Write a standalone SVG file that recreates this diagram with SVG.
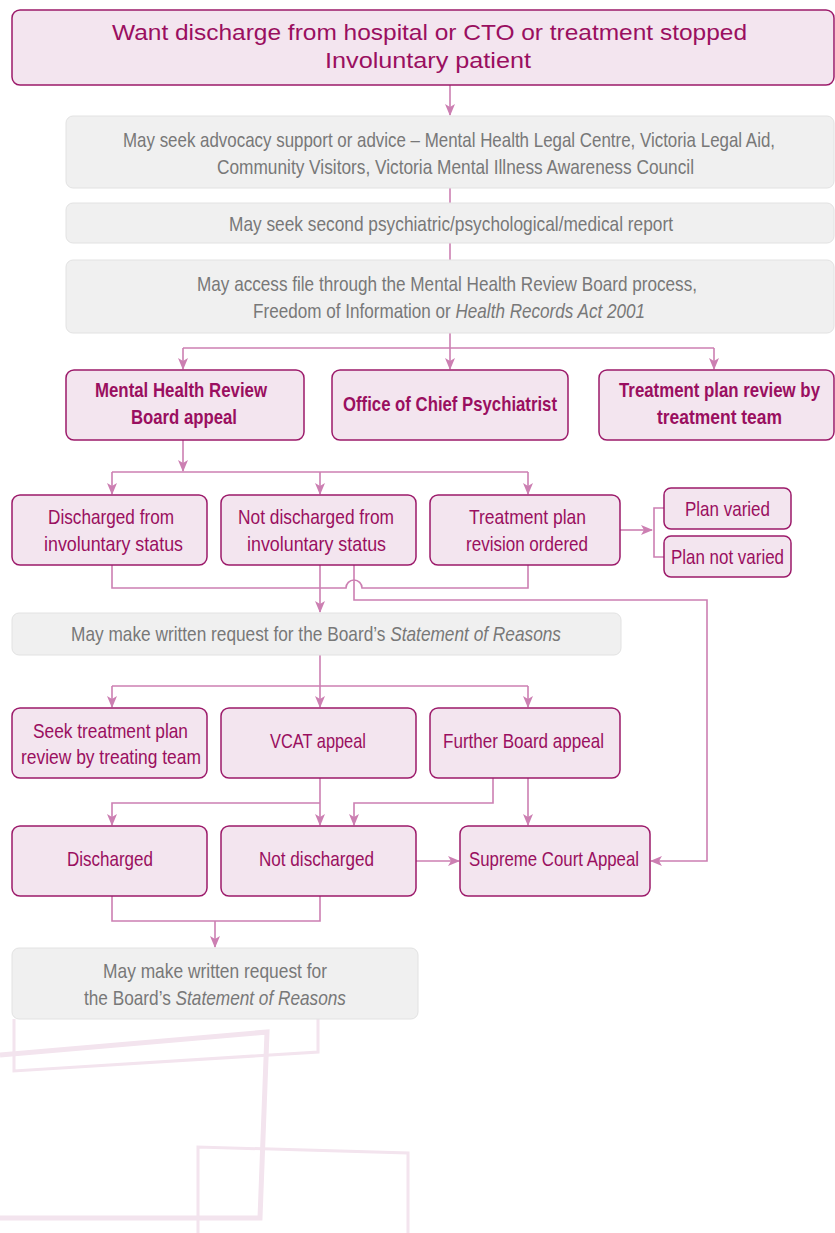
<svg xmlns="http://www.w3.org/2000/svg" width="835" height="1233" viewBox="0 0 835 1233">
<defs>
<marker id="ah" viewBox="0 0 12 10" refX="11" refY="5" markerWidth="12" markerHeight="10" markerUnits="userSpaceOnUse" orient="auto">
<path d="M0,0 L12,5 L0,10 L3,5 z" fill="#cc7fb2"/>
</marker>
<style>
.deco{fill:none;stroke:#f3e4ee;stroke-linejoin:miter}
.node{fill:#f3e5ef;stroke:#9c1a6a;stroke-width:1.5}
.gray{fill:#f0f0f0;stroke:#e2e2e2;stroke-width:1}
.c{fill:none;stroke:#cc7fb2;stroke-width:1.6}
.ca{fill:none;stroke:#cc7fb2;stroke-width:1.6;marker-end:url(#ah)}
text{text-anchor:start}
.t{font-family:"Liberation Sans",Arial,sans-serif;font-size:21px;fill:#9a0f60}
.b{font-weight:bold}
.g{font-family:"Liberation Sans",Arial,sans-serif;font-size:21px;fill:#787878}
.h{font-family:"Liberation Sans",Arial,sans-serif;font-size:22px;fill:#9a0f60}
</style>
</defs>
<g id="decoration">
<polyline class="deco" stroke-width="3" points="14,1019 14,1071 318,1052 318,1019"/>
<polyline class="deco" stroke-width="5" points="0,1055 267,1032 260,1218 0,1218"/>
<polyline class="deco" stroke-width="3" points="198,1233 198,1147 408,1153 408,1233"/>
</g>
<g id="connectors">
<line class="ca" x1="450" y1="85" x2="450" y2="115"/>
<line class="c" x1="450" y1="188" x2="450" y2="203"/>
<line class="c" x1="450" y1="243" x2="450" y2="260"/>
<line class="c" x1="450" y1="333" x2="450" y2="348"/>
<line class="c" x1="183" y1="348" x2="714" y2="348"/>
<line class="ca" x1="183" y1="348" x2="183" y2="369"/>
<line class="ca" x1="450" y1="348" x2="450" y2="369"/>
<line class="ca" x1="714" y1="348" x2="714" y2="369"/>
<line class="ca" x1="183" y1="440" x2="183" y2="471"/>
<line class="c" x1="112" y1="472" x2="528" y2="472"/>
<line class="ca" x1="112" y1="472" x2="112" y2="494"/>
<line class="ca" x1="320" y1="472" x2="320" y2="494"/>
<line class="ca" x1="528" y1="472" x2="528" y2="494"/>
<line class="ca" x1="620" y1="530" x2="652" y2="530"/>
<polyline class="c" points="664,508 654,508 654,557 664,557"/>
<path class="c" d="M112,565 V588 H346 A8,8 0 0 1 362,588 H528 V565"/>
<line class="ca" x1="320" y1="565" x2="320" y2="612"/>
<polyline class="ca" points="354,565 354,600 707,600 707,861 651,861"/>
<line class="c" x1="320" y1="655" x2="320" y2="686"/>
<line class="c" x1="112" y1="686" x2="528" y2="686"/>
<line class="ca" x1="112" y1="686" x2="112" y2="707"/>
<line class="ca" x1="320" y1="686" x2="320" y2="707"/>
<line class="ca" x1="528" y1="686" x2="528" y2="707"/>
<line class="ca" x1="320" y1="778" x2="320" y2="825"/>
<polyline class="ca" points="320,803 112,803 112,825"/>
<polyline class="ca" points="493,778 493,803 354,803 354,825"/>
<line class="ca" x1="528" y1="778" x2="528" y2="825"/>
<line class="ca" x1="416" y1="861" x2="459" y2="861"/>
<polyline class="c" points="112,896 112,921 320,921 320,896"/>
<line class="ca" x1="215" y1="921" x2="215" y2="947"/>
</g>
<g id="n-title">
<rect class="node" x="12" y="10" width="822" height="75" rx="8"/>
<text class="h" x="112" y="40" textLength="635" lengthAdjust="spacingAndGlyphs">Want discharge from hospital or CTO or treatment stopped</text>
<text class="h" x="325" y="68" textLength="206" lengthAdjust="spacingAndGlyphs">Involuntary patient</text>
</g>
<g id="n-advocacy">
<rect class="gray" x="66" y="116" width="768" height="72" rx="7"/>
<text class="g" x="123" y="147" textLength="652" lengthAdjust="spacingAndGlyphs">May seek advocacy support or advice – Mental Health Legal Centre, Victoria Legal Aid,</text>
<text class="g" x="217" y="174" textLength="477" lengthAdjust="spacingAndGlyphs">Community Visitors, Victoria Mental Illness Awareness Council</text>
</g>
<g id="n-second">
<rect class="gray" x="66" y="203" width="768" height="40" rx="7"/>
<text class="g" x="229" y="231" textLength="444" lengthAdjust="spacingAndGlyphs">May seek second psychiatric/psychological/medical report</text>
</g>
<g id="n-access">
<rect class="gray" x="66" y="260" width="768" height="73" rx="7"/>
<text class="g" x="197" y="291" textLength="500" lengthAdjust="spacingAndGlyphs">May access file through the Mental Health Review Board process,</text>
<text class="g" x="253" y="318" textLength="392" lengthAdjust="spacingAndGlyphs">Freedom of Information or <tspan font-style="italic">Health Records Act 2001</tspan></text>
</g>
<g id="n-mhrb">
<rect class="node" x="66" y="370" width="238" height="70" rx="8"/>
<text class="t b" x="95" y="397" textLength="172" lengthAdjust="spacingAndGlyphs">Mental Health Review</text>
<text class="t b" x="131" y="424" textLength="106" lengthAdjust="spacingAndGlyphs">Board appeal</text>
</g>
<g id="n-ocp">
<rect class="node" x="332" y="370" width="236" height="70" rx="8"/>
<text class="t b" x="343" y="411" textLength="214" lengthAdjust="spacingAndGlyphs">Office of Chief Psychiatrist</text>
</g>
<g id="n-tprt">
<rect class="node" x="599" y="370" width="235" height="70" rx="8"/>
<text class="t b" x="619" y="397" textLength="201" lengthAdjust="spacingAndGlyphs">Treatment plan review by</text>
<text class="t b" x="657" y="424" textLength="125" lengthAdjust="spacingAndGlyphs">treatment team</text>
</g>
<g id="n-disch-inv">
<rect class="node" x="12" y="495" width="195" height="70" rx="8"/>
<text class="t" x="48" y="524" textLength="126" lengthAdjust="spacingAndGlyphs">Discharged from</text>
<text class="t" x="44" y="551" textLength="139" lengthAdjust="spacingAndGlyphs">involuntary status</text>
</g>
<g id="n-notdisch-inv">
<rect class="node" x="221" y="495" width="195" height="70" rx="8"/>
<text class="t" x="238" y="524" textLength="156" lengthAdjust="spacingAndGlyphs">Not discharged from</text>
<text class="t" x="247" y="551" textLength="139" lengthAdjust="spacingAndGlyphs">involuntary status</text>
</g>
<g id="n-revision">
<rect class="node" x="430" y="495" width="190" height="70" rx="8"/>
<text class="t" x="469" y="524" textLength="117" lengthAdjust="spacingAndGlyphs">Treatment plan</text>
<text class="t" x="466" y="551" textLength="122" lengthAdjust="spacingAndGlyphs">revision ordered</text>
</g>
<g id="n-varied">
<rect class="node" x="664" y="488" width="127" height="41" rx="7"/>
<text class="t" x="685" y="516" textLength="85" lengthAdjust="spacingAndGlyphs">Plan varied</text>
</g>
<g id="n-notvaried">
<rect class="node" x="664" y="536" width="127" height="41" rx="7"/>
<text class="t" x="671" y="564" textLength="113" lengthAdjust="spacingAndGlyphs">Plan not varied</text>
</g>
<g id="n-sor1">
<rect class="gray" x="12" y="613" width="609" height="42" rx="7"/>
<text class="g" x="71" y="641" textLength="490" lengthAdjust="spacingAndGlyphs">May make written request for the Board’s <tspan font-style="italic">Statement of Reasons</tspan></text>
</g>
<g id="n-seek">
<rect class="node" x="12" y="708" width="195" height="70" rx="8"/>
<text class="t" x="33" y="738" textLength="155" lengthAdjust="spacingAndGlyphs">Seek treatment plan</text>
<text class="t" x="21" y="764" textLength="180" lengthAdjust="spacingAndGlyphs">review by treating team</text>
</g>
<g id="n-vcat">
<rect class="node" x="221" y="708" width="195" height="70" rx="8"/>
<text class="t" x="270" y="748" textLength="96" lengthAdjust="spacingAndGlyphs">VCAT appeal</text>
</g>
<g id="n-further">
<rect class="node" x="430" y="708" width="190" height="70" rx="8"/>
<text class="t" x="443" y="748" textLength="161" lengthAdjust="spacingAndGlyphs">Further Board appeal</text>
</g>
<g id="n-discharged">
<rect class="node" x="12" y="826" width="195" height="70" rx="8"/>
<text class="t" x="67" y="866" textLength="86" lengthAdjust="spacingAndGlyphs">Discharged</text>
</g>
<g id="n-notdischarged">
<rect class="node" x="221" y="826" width="195" height="70" rx="8"/>
<text class="t" x="259" y="866" textLength="115" lengthAdjust="spacingAndGlyphs">Not discharged</text>
</g>
<g id="n-supreme">
<rect class="node" x="460" y="826" width="190" height="70" rx="8"/>
<text class="t" x="469" y="866" textLength="170" lengthAdjust="spacingAndGlyphs">Supreme Court Appeal</text>
</g>
<g id="n-sor2">
<rect class="gray" x="12" y="948" width="406" height="71" rx="7"/>
<text class="g" x="103" y="978" textLength="224" lengthAdjust="spacingAndGlyphs">May make written request for</text>
<text class="g" x="84" y="1005" textLength="262" lengthAdjust="spacingAndGlyphs">the Board’s <tspan font-style="italic">Statement of Reasons</tspan></text>
</g>
</svg>
